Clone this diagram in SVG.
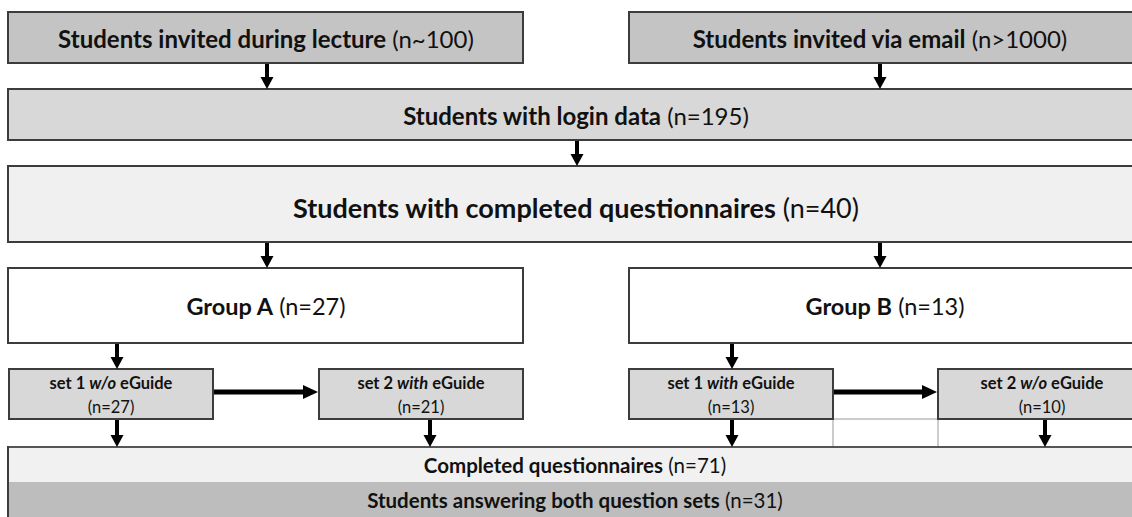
<svg xmlns="http://www.w3.org/2000/svg" width="1132" height="517" viewBox="0 0 1132 517">
<defs>
<style>
.box{stroke:#3c3c3c;stroke-width:2}
.t{font-family:Lato,"Liberation Sans",sans-serif;fill:#111;text-anchor:middle;dominant-baseline:central}
.b{font-weight:bold}
.i{font-style:italic}
.conn{stroke:#000;stroke-width:4;fill:none}
.hconn{stroke:#000;stroke-width:5;fill:none}
</style>
<marker id="ah" markerUnits="userSpaceOnUse" markerWidth="14" markerHeight="14" refX="2" refY="6.5" orient="auto">
<path d="M0,0 L12,6.5 L0,13 z" fill="#000"/>
</marker>
<marker id="ahh" markerUnits="userSpaceOnUse" markerWidth="16" markerHeight="16" refX="2" refY="7" orient="auto">
<path d="M0,0 L15,7 L0,14 z" fill="#000"/>
</marker>
</defs>
<rect width="1132" height="517" fill="#fff"/>
<g id="lecture">
<rect class="box" x="8" y="12" width="515" height="51" fill="#c4c4c4"/>
<text class="t" x="266" y="38" font-size="24"><tspan class="b">Students invited during lecture</tspan> (n~100)</text>
</g>
<g id="email">
<rect class="box" x="629" y="12" width="510" height="51" fill="#c4c4c4"/>
<text class="t" x="880" y="38" font-size="24"><tspan class="b">Students invited via email</tspan> (n&gt;1000)</text>
</g>
<g id="login">
<rect class="box" x="8" y="89" width="1135" height="51" fill="#d8d8d8"/>
<text class="t" x="576" y="115" font-size="24"><tspan class="b">Students with login data</tspan> (n=195)</text>
</g>
<g id="completed">
<rect class="box" x="8" y="166" width="1135" height="76" fill="#f0f0f0"/>
<text class="t" x="576" y="207" font-size="27"><tspan class="b">Students with completed questionnaires</tspan> (n=40)</text>
</g>
<g id="groupA">
<rect class="box" x="8" y="268" width="515" height="75" fill="#fff"/>
<text class="t" x="266" y="306" font-size="23.5"><tspan class="b">Group A</tspan> (n=27)</text>
</g>
<g id="groupB">
<rect class="box" x="629" y="268" width="510" height="75" fill="#fff"/>
<text class="t" x="885" y="306" font-size="23.5"><tspan class="b">Group B</tspan> (n=13)</text>
</g>
<g id="gap">
<rect x="833" y="419" width="105" height="28" fill="#fff" stroke="#9a9a9a" stroke-width="1"/>
</g>
<g id="a1">
<rect class="box" x="9" y="369" width="204" height="50" fill="#d8d8d8"/>
<text class="t b" x="111" y="383" font-size="16.5">set 1 <tspan class="i">w/o</tspan> eGuide</text>
<text class="t" x="111" y="407" font-size="16.5">(n=27)</text>
</g>
<g id="a2">
<rect class="box" x="319" y="369" width="204" height="50" fill="#d8d8d8"/>
<text class="t b" x="421" y="383" font-size="16.5">set 2 <tspan class="i">with</tspan> eGuide</text>
<text class="t" x="421" y="407" font-size="16.5">(n=21)</text>
</g>
<g id="b1">
<rect class="box" x="629" y="369" width="204" height="50" fill="#d8d8d8"/>
<text class="t b" x="731" y="383" font-size="16.5">set 1 <tspan class="i">with</tspan> eGuide</text>
<text class="t" x="731" y="407" font-size="16.5">(n=13)</text>
</g>
<g id="b2">
<rect class="box" x="938" y="369" width="210" height="50" fill="#d8d8d8"/>
<text class="t b" x="1042" y="383" font-size="16.5">set 2 <tspan class="i">w/o</tspan> eGuide</text>
<text class="t" x="1042" y="407" font-size="16.5">(n=10)</text>
</g>
<g id="completedQ">
<rect x="8" y="447" width="1135" height="35" fill="#f1f1f1"/>
<path d="M8,447 H1132" stroke="#555" stroke-width="2"/>
<text class="t" x="575" y="465" font-size="20.5"><tspan class="b">Completed questionnaires</tspan> (n=71)</text>
</g>
<g id="both">
<rect x="8" y="482" width="1135" height="40" fill="#bdbdbd"/>
<text class="t" x="575" y="500" font-size="20.5"><tspan class="b">Students answering both question sets</tspan> (n=31)</text>
</g>
<path d="M8,446 V517" stroke="#3c3c3c" stroke-width="2"/>
<g id="connectors">
<line class="conn" x1="267" y1="64" x2="267" y2="79" marker-end="url(#ah)"/>
<line class="conn" x1="880" y1="64" x2="880" y2="79" marker-end="url(#ah)"/>
<line class="conn" x1="577" y1="141" x2="577" y2="156" marker-end="url(#ah)"/>
<line class="conn" x1="267" y1="243" x2="267" y2="258" marker-end="url(#ah)"/>
<line class="conn" x1="880" y1="243" x2="880" y2="258" marker-end="url(#ah)"/>
<line class="conn" x1="117" y1="344" x2="117" y2="359" marker-end="url(#ah)"/>
<line class="conn" x1="732" y1="344" x2="732" y2="359" marker-end="url(#ah)"/>
<line class="conn" x1="117" y1="420" x2="117" y2="437" marker-end="url(#ah)"/>
<line class="conn" x1="430" y1="420" x2="430" y2="437" marker-end="url(#ah)"/>
<line class="conn" x1="732" y1="420" x2="732" y2="437" marker-end="url(#ah)"/>
<line class="conn" x1="1045" y1="420" x2="1045" y2="437" marker-end="url(#ah)"/>
<line class="hconn" x1="214" y1="392" x2="305" y2="392" marker-end="url(#ahh)"/>
<line class="hconn" x1="834" y1="392" x2="924" y2="392" marker-end="url(#ahh)"/>
</g>
</svg>
